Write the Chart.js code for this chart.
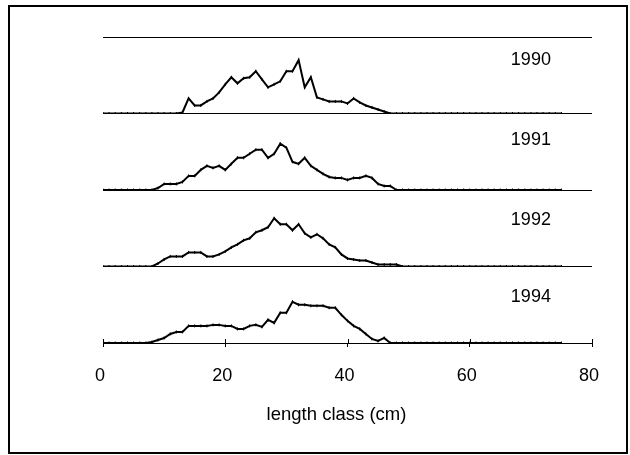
<!DOCTYPE html>
<html>
<head>
<meta charset="utf-8">
<script src="https://cdn.jsdelivr.net/npm/chart.js@4.4.1/dist/chart.umd.min.js"></script>
<style>
html,body{margin:0;padding:0;background:#fff;}
#wrap{position:relative;width:630px;height:455px;}
</style>
</head>
<body>
<div id="wrap"><canvas id="lengthChart" width="630" height="455"></canvas></div>
<script>
// length classes (cm)
const lengthClass = [0,1,2,3,4,5,6,7,8,9,10,11,12,13,14,15,16,17,18,19,20,21,22,23,24,25,26,27,28,29,30,31,32,33,34,35,36,37,38,39,40,41,42,43,44,45,46,47,48,49,50,51,52,53,54,55,56,57,58,59,60,61,62,63,64,65,66,67,68,69,70,71,72,73,74,75];

// relative frequency per length class, one panel per year
const freq1990 = [0,0,0,0,0,0,0,0,0,0, 0,0,0,1,15,8,8,12,15,21, 29,36,30,35,36,42,34,26,29,32, 42,42,53,26,36,16,14,12,12,12, 10,15,11,8,6,4,2,0,0,0, 0,0,0,0,0,0,0,0,0,0, 0,0,0,0,0,0,0,0,0,0, 0,0,0,0,0,0];
const freq1991 = [0,0,0,0,0,0,0,0,0,2, 6,6,6,8,14,14,20,24,22,24, 20,26,32,32,36,40,40,32,36,46, 42,28,26,32,24,20,16,13,12,12, 10,12,12,14,12,6,4,4,0,0, 0,0,0,0,0,0,0,0,0,0, 0,0,0,0,0,0,0,0,0,0, 0,0,0,0,0,0];
const freq1992 = [0,0,0,0,0,0,0,0,0,3, 7,10,10,10,14,14,14,10,10,12, 15,19,22,26,28,34,36,39,48,42, 42,36,42,33,29,32,28,22,19,12, 8,7,6,6,4,2,2,2,2,0, 0,0,0,0,0,0,0,0,0,0, 0,0,0,0,0,0,0,0,0,0, 0,0,0,0,0,0];
const freq1994 = [0,0,0,0,0,0,0,0,1,3, 5,9,11,11,17,17,17,17,18,18, 17,17,14,14,17,18,16,23,20,30, 30,41,38,38,37,37,37,35,35,28, 22,17,14,9,4,2,5,0,0,0, 0,0,0,0,0,0,0,0,0,0, 0,0,0,0,0,0,0,0,0,0, 0,0,0,0,0,0];

const years = ['1990','1991','1992','1994'];
const series = [freq1990, freq1991, freq1992, freq1994];
const xTicks = [0,20,40,60,80];
const xTitle = 'length class (cm)';
const panelMax = 76;

const FONT = "'Liberation Sans', Arial, sans-serif";
Chart.defaults.font.family = FONT;
Chart.defaults.color = '#000';

// y axes are stacked; the last one defined ends up on top
function panelAxis(isTop){
  return {
    type:'linear', position:'left', stack:'years', stackWeight:1,
    min:0, max:panelMax,
    ticks:{display:false},
    grid:{color:'#000', lineWidth:1, drawTicks:false},
    border:{display:false},
    afterBuildTicks: s => { s.ticks = isTop ? [{value:0},{value:panelMax}] : [{value:0}]; },
    afterFit: s => { s.width = 0; s.paddingTop = 0; s.paddingBottom = 0; }
  };
}

const scales = {
  x: {
    type:'linear', position:'bottom', min:0, max:80,
    afterBuildTicks: s => { s.ticks = xTicks.map(v => ({value:v})); },
    ticks:{font:{size:18}, padding:18, labelOffset:-3, maxRotation:0, color:'#000'},
    grid:{display:true, drawOnChartArea:false, drawTicks:true, tickLength:4, color:'#000', lineWidth:1},
    border:{display:true, color:'#000', width:1},
    title:{display:false},
    afterFit: s => { s.height = 112; s.paddingLeft = 0; s.paddingRight = 0; }
  }
};
// bottom panel first, top panel last
for (let i = years.length - 1; i >= 0; i--) {
  scales['y' + years[i]] = panelAxis(i === 0);
}

const datasets = years.map((yr, i) => ({
  label: yr,
  yAxisID: 'y' + yr,
  data: lengthClass.map((c, j) => ({x: c, y: series[i][j]})),
  borderColor:'#000', borderWidth:2, tension:0, fill:false,
  pointStyle:'line', pointRotation:90, pointRadius:1.5,
  pointBorderWidth:1, pointBorderColor:'#000', pointBackgroundColor:'#000'
}));

const labelDrop = [23, 27, 30, 31];

const decor = {
  id:'decor',
  afterDraw(chart){
    const ctx = chart.ctx;
    const x = chart.scales.x;
    const axisY = chart.chartArea.bottom;
    ctx.save();
    ctx.strokeStyle = '#000';
    ctx.lineWidth = 1;
    // upper half of the x tick marks
    xTicks.forEach(v => {
      const px = Math.round(x.getPixelForValue(v)) + 0.5;
      ctx.beginPath(); ctx.moveTo(px, axisY - 4); ctx.lineTo(px, axisY); ctx.stroke();
    });
    ctx.fillStyle = '#000';
    ctx.textAlign = 'center';
    ctx.textBaseline = 'middle';
    // year labels
    ctx.font = "18px " + FONT;
    years.forEach((yr, i) => {
      const s = chart.scales['y' + yr];
      ctx.fillText(yr, x.getPixelForValue(70), s.top + labelDrop[i]);
    });
    // axis title, sits a little left of the axis centre
    ctx.font = "18.5px " + FONT;
    ctx.fillText(xTitle, x.getPixelForValue(38.2), axisY + 72);
    // outer frame
    ctx.lineWidth = 2;
    ctx.strokeRect(9, 6, 618, 447);
    ctx.restore();
  }
};

new Chart(document.getElementById('lengthChart'), {
  type:'line',
  data:{datasets},
  options:{
    responsive:false, animation:false,
    layout:{padding:{left:103, right:38, top:37, bottom:0}},
    plugins:{legend:{display:false}, tooltip:{enabled:false}},
    scales
  },
  plugins:[decor]
});
</script>
</body>
</html>
